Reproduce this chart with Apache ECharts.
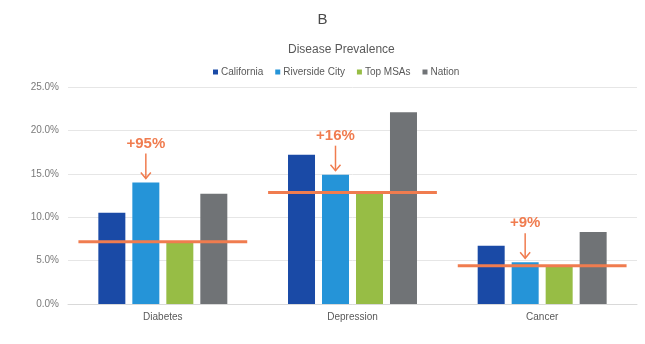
<!DOCTYPE html>
<html>
<head>
<meta charset="utf-8">
<script src="https://cdn.jsdelivr.net/npm/echarts@6/dist/echarts.min.js"></script>
<style>
  html, body { margin: 0; padding: 0; background: #ffffff; }
  #chart { width: 645px; height: 344px; }
</style>
</head>
<body>
<div id="chart"></div>
<script>
// Disease prevalence by area (percent of population)
const categories = ['Diabetes', 'Depression', 'Cancer'];
const seriesNames = ['California', 'Riverside City', 'Top MSAs', 'Nation'];
const california = [10.5, 17.2, 6.7];
const riverside = [14.0, 14.9, 4.8];
const topMSAs = [7.18, 12.85, 4.4];
const nation = [12.7, 22.1, 8.3];
const yTicks = [0, 5, 10, 15, 20, 25];

const colors = ['#1a4aa6', '#2594d8', '#97bd45', '#707376'];
const accent = '#f07c4f';
const font = 'Liberation Sans, Arial, sans-serif';

const barW = 27;
const gapPx = 7;
// horizontal offset of the Riverside City bar from its category centre
const riversideOffset = -0.5 * (barW + gapPx);

// Riverside City relative to Top MSAs, e.g. "+95%"
const diffLabels = riverside.map((v, i) => '+' + Math.round((v / topMSAs[i] - 1) * 100) + '%');

const chart = echarts.init(document.getElementById('chart'), null, { renderer: 'canvas' });

const barSeries = [california, riverside, topMSAs, nation].map((vals, k) => ({
  name: seriesNames[k],
  type: 'bar',
  data: vals,
  barWidth: barW,
  barGap: (gapPx / barW * 100).toFixed(1) + '%',
  itemStyle: { color: colors[k] },
  z: 2
}));

chart.setOption({
  animation: false,
  textStyle: { fontFamily: font },
  title: [
    { text: 'B', left: 'center', top: 7, textStyle: { fontSize: 15, fontWeight: 'normal', color: '#4a4a4a', fontFamily: font } },
    { text: 'Disease Prevalence', left: 283, top: 39, textStyle: { fontSize: 12, fontWeight: 'normal', color: '#595959', fontFamily: font } }
  ],
  legend: {
    data: seriesNames,
    top: 62,
    left: 208,
    icon: 'rect',
    itemWidth: 5,
    itemHeight: 5,
    itemGap: 12,
    textStyle: { fontSize: 10, color: '#595959', fontFamily: font, padding: [0, 0, 0, -2] }
  },
  grid: { left: 68, right: 8, top: 87, bottom: 40 },
  xAxis: {
    type: 'category',
    data: categories,
    axisLine: { lineStyle: { color: '#d9d9d9' } },
    axisTick: { show: false },
    axisLabel: { fontSize: 10, color: '#595959', margin: 8, fontFamily: font }
  },
  yAxis: {
    type: 'value',
    min: yTicks[0],
    max: yTicks[yTicks.length - 1],
    interval: yTicks[1] - yTicks[0],
    axisLine: { show: false },
    axisTick: { show: false },
    splitLine: { lineStyle: { color: '#e6e6e6' } },
    axisLabel: { fontSize: 10, color: '#7a7a7a', margin: 9, fontFamily: font, formatter: v => v.toFixed(1) + '%' }
  },
  series: barSeries.concat([
    {
      // Top MSAs benchmark line across each category
      name: 'benchmark',
      type: 'custom',
      z: 5,
      silent: true,
      data: topMSAs.map((v, i) => [i, v]),
      renderItem: (params, api) => {
        const c = api.coord([api.value(0), api.value(1)]);
        const half = api.size([1, 0])[0] * 0.445;
        return {
          type: 'line',
          shape: { x1: c[0] - half, y1: c[1], x2: c[0] + half, y2: c[1] },
          style: { stroke: accent, lineWidth: 3 }
        };
      }
    },
    {
      // difference label with arrow above the Riverside City bar
      name: 'difference',
      type: 'custom',
      z: 6,
      silent: true,
      data: riverside.map((v, i) => [i, v, diffLabels[i]]),
      renderItem: (params, api) => {
        const c = api.coord([api.value(0), api.value(1)]);
        const x = c[0] + riversideOffset;
        const top = c[1];
        const y0 = top - 29, y1 = top - 4;
        return {
          type: 'group',
          children: [
            {
              type: 'text',
              style: {
                text: diffLabels[params.dataIndex],
                x: x, y: top - 39,
                textAlign: 'center', textVerticalAlign: 'middle',
                fontSize: 15, fontWeight: 'bold', fontFamily: font,
                fill: accent
              }
            },
            {
              type: 'line',
              shape: { x1: x, y1: y0, x2: x, y2: y1 },
              style: { stroke: accent, lineWidth: 1.5 }
            },
            {
              type: 'polyline',
              shape: { points: [[x - 5, y1 - 6], [x, y1], [x + 5, y1 - 6]] },
              style: { stroke: accent, lineWidth: 1.5, fill: null }
            }
          ]
        };
      }
    }
  ])
});
</script>
</body>
</html>
